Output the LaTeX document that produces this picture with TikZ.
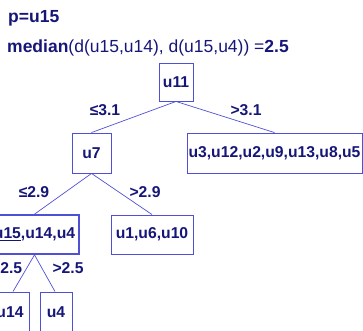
\documentclass[tikz,border=0pt]{standalone}
\usepackage{fontspec}
\setmainfont{Liberation Sans}
\definecolor{txt}{RGB}{22,22,120}
\definecolor{ln}{RGB}{80,80,215}
\tikzset{
  tbox/.style={draw=ln, line width=0.9pt, fill=white, text=txt, font=\fontsize{15.7}{18}\selectfont\bfseries, inner sep=0pt, anchor=center},
  lbl/.style={text=txt, font=\fontsize{15.7}{18}\selectfont\bfseries, inner sep=0pt, anchor=center},
  edge/.style={draw=ln, line width=0.7pt},
  hdr/.style={text=txt, font=\fontsize{17.5}{20}\selectfont, inner sep=0pt, anchor=base west}
}
\begin{document}
\begin{tikzpicture}[x=1pt,y=1pt]
\useasboundingbox (0,0) rectangle (363,-330);
\node[hdr] (h1) at (8,-22) {\bfseries p=u15};
\node[hdr] (h2) at (7,-52) {\textbf{median}(d(u15,u14), d(u15,u4)) =\textbf{2.5}};
\node[tbox, minimum width=34pt, minimum height=38pt] (u11) at (176,-82) {u11};
\node[tbox, minimum width=39pt, minimum height=40pt] (u7) at (91.5,-153) {u7};
\node[tbox, minimum width=175pt, minimum height=40pt] (R) at (274.5,-153) {u3,u12,u2,u9,u13,u8,u5};
\node[tbox, line width=1.7pt, minimum width=89pt, minimum height=39pt] (L2) at (34.5,-234.5) {\underline{u15},u14,u4};
\node[tbox, minimum width=82pt, minimum height=39pt] (M2) at (152,-234.5) {u1,u6,u10};
\node[tbox, minimum width=38pt, minimum height=40pt] (u14) at (10,-312) {u14};
\node[tbox, minimum width=32pt, minimum height=40pt] (u4) at (56,-312) {u4};
\draw[edge] (u11.south) -- (u7.north);
\draw[edge] (u11.south) -- (R.north);
\draw[edge] (u7.south) -- (L2.north);
\draw[edge] (u7.south) -- (M2.north);
\draw[edge] (L2.south) -- ([xshift=3pt]u14.north);
\draw[edge] (L2.south) -- ([xshift=-1pt]u4.north);
\node[lbl] (l1) at (105,-110) {≤3.1};
\node[lbl] (l2) at (246,-110) {>3.1};
\node[lbl] (l3) at (34,-192) {≤2.9};
\node[lbl] (l4) at (145,-192) {>2.9};
\node[lbl] (l5) at (7,-268) {≤2.5};
\node[lbl] (l6) at (68,-268) {>2.5};
\end{tikzpicture}
\end{document}
